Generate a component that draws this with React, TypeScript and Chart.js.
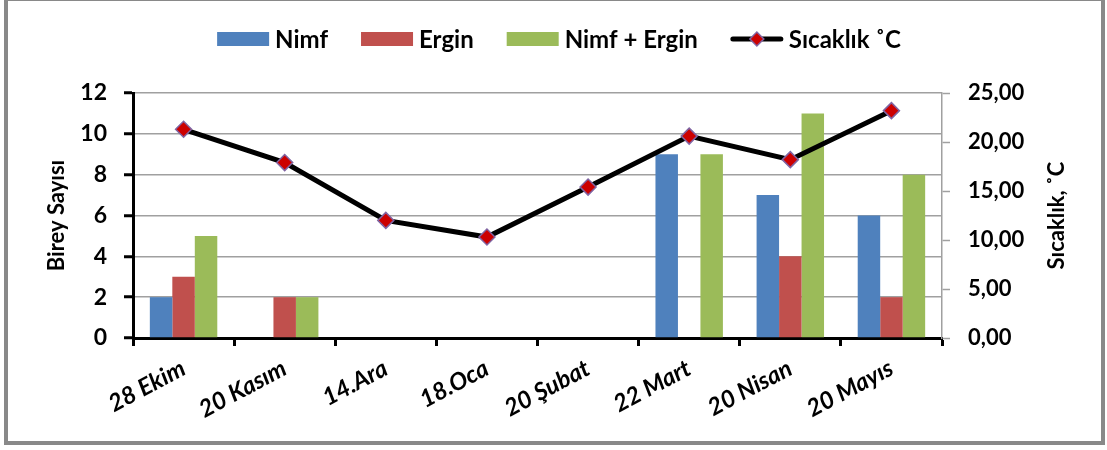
import React, { useEffect, useRef } from "react";
import { Chart, registerables } from "chart.js";

Chart.register(...registerables);

// Sampling dates
const categories = [
  "28 Ekim",
  "20 Kasım",
  "14.Ara",
  "18.Oca",
  "20 Şubat",
  "22 Mart",
  "20 Nisan",
  "20 Mayıs",
];

// Individual counts (left axis)
const nimf = [2, 0, 0, 0, 0, 9, 7, 6];
const ergin = [3, 2, 0, 0, 0, 0, 4, 2];
const nimfErgin = [5, 2, 0, 0, 0, 9, 11, 8];

// Temperature, °C (right axis)
const sicaklik = [21.3, 17.9, 12.0, 10.3, 15.4, 20.6, 18.2, 23.2];

// Axis ranges and titles
const countAxis = { min: 0, max: 12, step: 2 };
const tempAxis = { min: 0, max: 25, step: 5 };
const countTitle = "Birey Sayısı";
const tempTitle = "Sıcaklık, ˚C";

const FONT = "Lato, 'Open Sans', sans-serif";
const BLUE = "#4F81BD";
const RED = "#C0504D";
const GREEN = "#9BBB59";
const MARKER_FILL = "#CC0000";
const MARKER_EDGE = "#8064A2";
const GRID = "#a0a0a0";

// Legend drawn across the top: colour swatches for bars, a line with a
// diamond for the temperature series.
const topLegend = {
  id: "topLegend",
  afterDraw(chart: any) {
    const ctx: CanvasRenderingContext2D = chart.ctx;
    const swatchW = 52;
    const swatchH = 14;
    const textGap = 6;
    const itemGap = 33;
    const centerX = 559;
    const centerY = 39;
    ctx.save();
    ctx.font = `bold 24px ${FONT}`;
    ctx.textBaseline = "middle";
    ctx.textAlign = "left";
    const items = chart.data.datasets.map((ds: any) => ({
      ds,
      w: swatchW + textGap + ctx.measureText(ds.label).width,
    }));
    const total =
      items.reduce((s: number, it: any) => s + it.w, 0) + itemGap * (items.length - 1);
    let x = centerX - total / 2;
    for (const it of items) {
      const ds = it.ds;
      if (ds.type === "line") {
        ctx.strokeStyle = ds.borderColor;
        ctx.lineWidth = ds.borderWidth;
        ctx.lineCap = "round";
        ctx.beginPath();
        ctx.moveTo(x + 2, centerY);
        ctx.lineTo(x + swatchW - 2, centerY);
        ctx.stroke();
        const cx = x + swatchW / 2;
        const r = 7;
        ctx.beginPath();
        ctx.moveTo(cx - r, centerY);
        ctx.lineTo(cx, centerY - r);
        ctx.lineTo(cx + r, centerY);
        ctx.lineTo(cx, centerY + r);
        ctx.closePath();
        ctx.fillStyle = ds.pointBackgroundColor;
        ctx.fill();
        ctx.lineWidth = ds.pointBorderWidth;
        ctx.strokeStyle = ds.pointBorderColor;
        ctx.stroke();
      } else {
        ctx.fillStyle = ds.backgroundColor;
        ctx.fillRect(x, centerY - swatchH / 2, swatchW, swatchH);
      }
      ctx.fillStyle = "#000";
      ctx.fillText(ds.label, x + swatchW + textGap, centerY + 1);
      x += it.w + itemGap;
    }
    ctx.restore();
  },
};

// Right-hand axis title, reading bottom-to-top like the left one.
const rightTitle = {
  id: "rightTitle",
  afterDraw(chart: any) {
    const ctx: CanvasRenderingContext2D = chart.ctx;
    const scale = chart.scales.y1;
    const { top, bottom } = chart.chartArea;
    ctx.save();
    ctx.translate(scale.right - 50, (top + bottom) / 2);
    ctx.rotate(-Math.PI / 2);
    ctx.font = `bold 22px ${FONT}`;
    ctx.fillStyle = "#000";
    ctx.textAlign = "center";
    ctx.textBaseline = "middle";
    ctx.fillText(tempTitle, 0, 0);
    ctx.restore();
  },
};

export default function App() {
  const canvasRef = useRef<HTMLCanvasElement | null>(null);

  useEffect(() => {
    const canvas = canvasRef.current;
    if (!canvas) return;

    const tickFont = { family: FONT, size: 22, weight: "bold" as const };

    const chart = new Chart(canvas, {
      type: "bar",
      data: {
        labels: categories,
        datasets: [
          {
            type: "bar",
            label: "Nimf",
            data: nimf,
            backgroundColor: BLUE,
            yAxisID: "y",
            order: 1,
          },
          {
            type: "bar",
            label: "Ergin",
            data: ergin,
            backgroundColor: RED,
            yAxisID: "y",
            order: 1,
          },
          {
            type: "bar",
            label: "Nimf + Ergin",
            data: nimfErgin,
            backgroundColor: GREEN,
            yAxisID: "y",
            order: 1,
          },
          {
            type: "line",
            label: "Sıcaklık ˚C",
            data: sicaklik,
            borderColor: "#000",
            borderWidth: 5,
            tension: 0,
            pointStyle: "rectRot",
            pointRadius: 8,
            pointBackgroundColor: MARKER_FILL,
            pointBorderColor: MARKER_EDGE,
            pointBorderWidth: 1.5,
            yAxisID: "y1",
            order: 0,
          } as any,
        ],
      },
      options: {
        responsive: false,
        animation: false,
        events: [],
        layout: { padding: { top: 93, left: 0, right: 0, bottom: 0 } },
        datasets: {
          bar: { categoryPercentage: 0.667, barPercentage: 1 },
        },
        plugins: {
          legend: { display: false },
          tooltip: { enabled: false },
        },
        scales: {
          x: {
            type: "category",
            offset: true,
            afterFit: (scale: any) => {
              scale.height = 112;
            },
            grid: {
              offset: true,
              drawOnChartArea: false,
              tickColor: "#000",
              tickWidth: 3,
              tickLength: 8,
            },
            border: { color: "#000", width: 3 },
            ticks: {
              color: "#000",
              font: { family: FONT, size: 24, weight: "bold", style: "italic" },
              minRotation: 28,
              maxRotation: 28,
              autoSkip: false,
              padding: 8,
            },
          },
          y: {
            position: "left",
            min: countAxis.min,
            max: countAxis.max,
            afterFit: (scale: any) => {
              scale.width = 133;
            },
            grid: {
              color: GRID,
              lineWidth: 1.5,
              tickColor: "#000",
              tickWidth: 3,
              tickLength: 9,
            },
            border: { color: "#000", width: 3 },
            ticks: {
              stepSize: countAxis.step,
              color: "#000",
              font: { ...tickFont, size: 23 },
              padding: 17,
            },
            title: {
              display: true,
              text: countTitle,
              color: "#000",
              font: { family: FONT, size: 22, weight: "bold" },
              padding: { top: 44, bottom: 0 },
            },
          },
          y1: {
            position: "right",
            min: tempAxis.min,
            max: tempAxis.max,
            afterFit: (scale: any) => {
              scale.width = 165;
            },
            grid: {
              drawOnChartArea: false,
              color: GRID,
              tickColor: GRID,
              tickWidth: 1.5,
              tickLength: 8,
            },
            border: { color: GRID, width: 1.5 },
            ticks: {
              stepSize: tempAxis.step,
              color: "#000",
              font: tickFont,
              padding: 18,
              callback: (v: any) => Number(v).toFixed(2).replace(".", ","),
            },
          },
        },
      },
      plugins: [topLegend, rightTitle],
    });

    let alive = true;
    if ((document as any).fonts?.ready) {
      (document as any).fonts.ready.then(() => {
        if (alive) chart.update();
      });
    }

    return () => {
      alive = false;
      chart.destroy();
    };
  }, []);

  return (
    <div
      style={{
        position: "fixed",
        left: 0,
        top: 0,
        width: 1107,
        height: 450,
        background: "#fff",
        overflow: "hidden",
      }}
    >
      <canvas
        ref={canvasRef}
        width={1107}
        height={450}
        style={{ position: "absolute", left: 0, top: 0, width: 1107, height: 450 }}
      />
      <div
        style={{
          position: "absolute",
          left: 4,
          top: -3,
          width: 1101,
          height: 448,
          boxSizing: "border-box",
          border: "4px solid #898989",
          pointerEvents: "none",
        }}
      />
    </div>
  );
}
